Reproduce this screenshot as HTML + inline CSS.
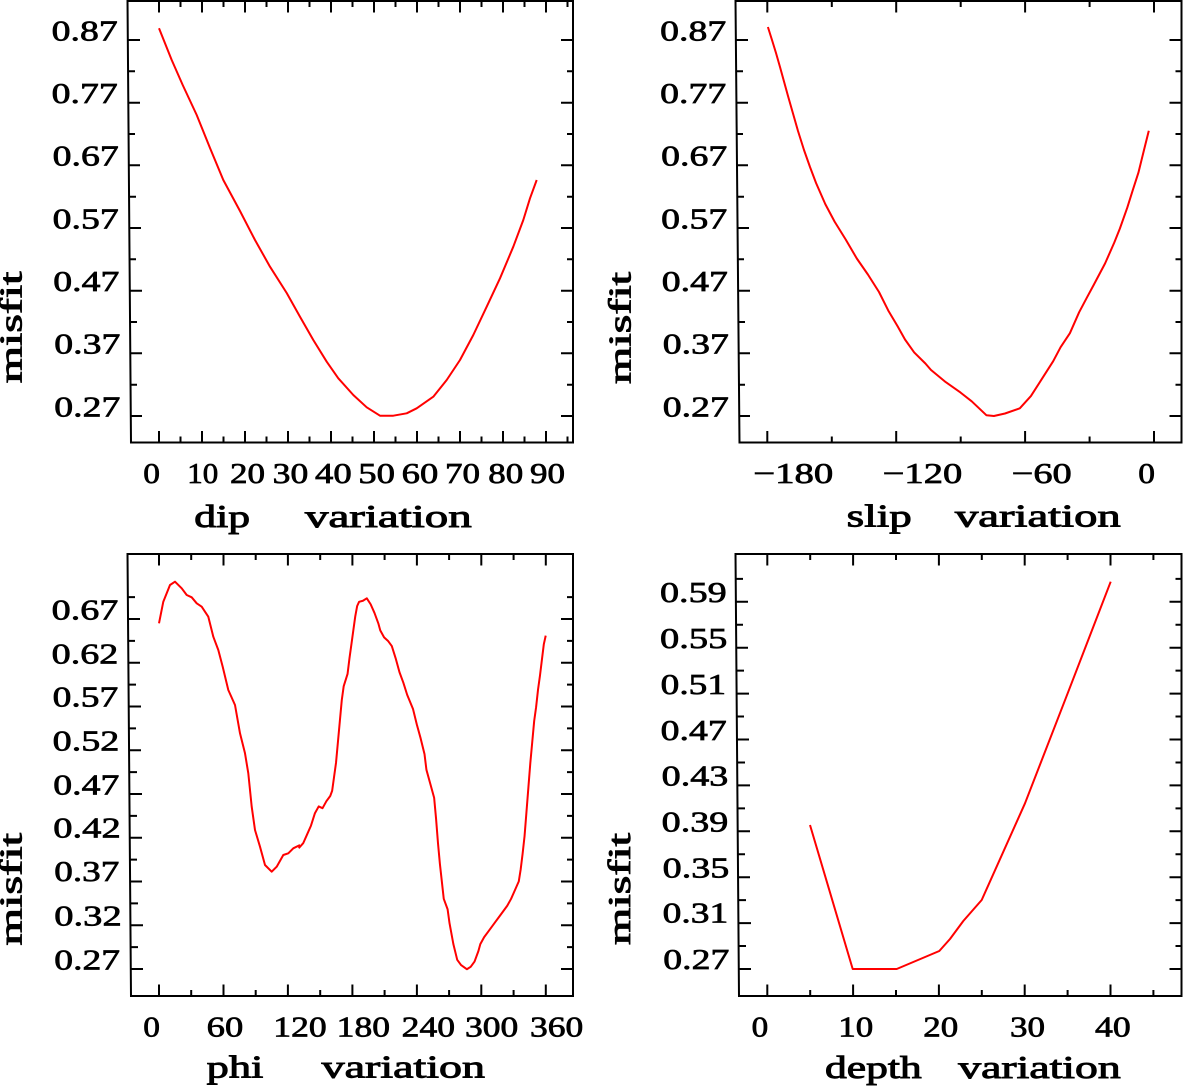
<!DOCTYPE html>
<html><head><meta charset="utf-8"><style>
html,body{margin:0;padding:0;background:#fff;}
svg{display:block;}
text{font-family:"Liberation Serif","DejaVu Serif",serif;font-weight:normal;fill:#000;stroke:#000;stroke-width:0.7px;}
.n{font-size:29px;}
.t{font-size:32px;stroke-width:0.9px;}
.ax{stroke:#000;stroke-width:2;fill:none;}
.tk{stroke:#000;stroke-width:2;fill:none;}
.c{stroke:#ff0000;stroke-width:2;fill:none;stroke-linejoin:round;}
</style></head><body>
<svg width="1183" height="1086" viewBox="0 0 1183 1086" xmlns="http://www.w3.org/2000/svg">
<rect width="1183" height="1086" fill="#fff"/>

<!-- ================= TOP LEFT (dip) ================= -->
<path class="ax" d="M127.5 0 L131 443.5 M130 442.5 H573 M573 0 V443.5 M127.5 1 H574"/>
<path class="tk" d="
M159 442.5V431 M180.5 442.5V436.5 M202 442.5V431 M223.5 442.5V436.5 M245 442.5V431 M266.5 442.5V436.5 M288 442.5V431 M309.5 442.5V436.5 M331 442.5V431 M352.5 442.5V436.5 M374 442.5V431 M395.5 442.5V436.5 M417 442.5V431 M438.5 442.5V436.5 M460 442.5V431 M481.5 442.5V436.5 M503 442.5V431 M524.5 442.5V436.5 M546 442.5V431 M567.5 442.5V436.5
M159 1V12.5 M180.5 1V7 M202 1V12.5 M223.5 1V7 M245 1V12.5 M266.5 1V7 M288 1V12.5 M309.5 1V7 M331 1V12.5 M352.5 1V7 M374 1V12.5 M395.5 1V7 M417 1V12.5 M438.5 1V7 M460 1V12.5 M481.5 1V7 M503 1V12.5 M524.5 1V7 M546 1V12.5 M567.5 1V7
M127.8 40H140 M128.1 71.3H135 M128.3 102.7H140 M128.6 134H135 M128.8 165.3H140 M129.1 196.7H136 M129.3 228H141 M129.6 259.3H136 M129.8 290.7H142 M130 322H137 M130.3 353.3H142 M130.5 384.7H137 M130.8 416H142
M573 40H561 M573 71.3H567 M573 102.7H561 M573 134H567 M573 165.3H561 M573 196.7H567 M573 228H561 M573 259.3H567 M573 290.7H561 M573 322H567 M573 353.3H561 M573 384.7H567 M573 416H561"/>
<text class="n" x="51.7" y="40.5" textLength="66" lengthAdjust="spacingAndGlyphs">0.87</text>
<text class="n" x="51.7" y="103" textLength="66" lengthAdjust="spacingAndGlyphs">0.77</text>
<text class="n" x="52.7" y="165.5" textLength="66" lengthAdjust="spacingAndGlyphs">0.67</text>
<text class="n" x="52.7" y="228.5" textLength="66" lengthAdjust="spacingAndGlyphs">0.57</text>
<text class="n" x="53.3" y="291" textLength="66" lengthAdjust="spacingAndGlyphs">0.47</text>
<text class="n" x="54.3" y="353.5" textLength="66" lengthAdjust="spacingAndGlyphs">0.37</text>
<text class="n" x="54.3" y="416.5" textLength="66" lengthAdjust="spacingAndGlyphs">0.27</text>
<text class="n" x="143.3" y="483" textLength="16.7" lengthAdjust="spacingAndGlyphs">0</text>
<text class="n" x="187.3" y="483" textLength="31" lengthAdjust="spacingAndGlyphs">10</text>
<text class="n" x="230" y="483" textLength="35" lengthAdjust="spacingAndGlyphs">20</text>
<text class="n" x="272.7" y="483" textLength="35.6" lengthAdjust="spacingAndGlyphs">30</text>
<text class="n" x="315" y="483" textLength="36.7" lengthAdjust="spacingAndGlyphs">40</text>
<text class="n" x="358.3" y="483" textLength="36.7" lengthAdjust="spacingAndGlyphs">50</text>
<text class="n" x="401.7" y="483" textLength="36.6" lengthAdjust="spacingAndGlyphs">60</text>
<text class="n" x="445" y="483" textLength="35" lengthAdjust="spacingAndGlyphs">70</text>
<text class="n" x="488.3" y="483" textLength="35" lengthAdjust="spacingAndGlyphs">80</text>
<text class="n" x="530" y="483" textLength="35" lengthAdjust="spacingAndGlyphs">90</text>
<text class="t" x="194.3" y="527" textLength="55.7" lengthAdjust="spacingAndGlyphs">dip</text>
<text class="t" x="305" y="527" textLength="166.7" lengthAdjust="spacingAndGlyphs">variation</text>
<text class="t" transform="translate(21.7,383.3) rotate(-90)" x="0" y="0" textLength="111.7" lengthAdjust="spacingAndGlyphs">misfit</text>
<polyline class="c" points="159,28.3 171.7,60 182.7,85 196.7,115 210,148 223.3,180 240,211 255,240 270,266.7 286.7,293 300,316.7 313.3,340 326.7,361.7 338.3,378.3 353.3,395 366.7,407.3 380,415.7 393.3,415.7 406.7,413.3 416.7,408.3 433.3,396.7 446.7,380 460,360 473.3,335 486.7,306.7 500,278.3 513.3,246.7 523.3,220 530,198.3 536.7,180"/>

<!-- ================= TOP RIGHT (slip) ================= -->
<path class="ax" d="M735.5 0 L739.5 443.5 M738.5 442.5 H1181.5 M1181.5 0 V443.5 M735.5 1 H1182.5"/>
<path class="tk" d="
M767.3 442.5V431 M831.8 442.5V436.5 M896.2 442.5V431 M960.7 442.5V436.5 M1025.1 442.5V431 M1089.6 442.5V436.5 M1154 442.5V431
M767.3 1V12.5 M831.8 1V7 M896.2 1V12.5 M960.7 1V7 M1025.1 1V12.5 M1089.6 1V7 M1154 1V12.5
M735.8 40H748 M736.1 71.3H743 M736.3 102.7H748 M736.6 134H743 M736.8 165.3H748 M737.1 196.7H744 M737.3 228H749 M737.6 259.3H744 M737.8 290.7H750 M738 322H745 M738.3 353.3H750 M738.5 384.7H745 M738.8 416H750
M1181.5 40H1169.5 M1181.5 71.3H1175.5 M1181.5 102.7H1169.5 M1181.5 134H1175.5 M1181.5 165.3H1169.5 M1181.5 196.7H1175.5 M1181.5 228H1169.5 M1181.5 259.3H1175.5 M1181.5 290.7H1169.5 M1181.5 322H1175.5 M1181.5 353.3H1169.5 M1181.5 384.7H1175.5 M1181.5 416H1169.5"/>
<text class="n" x="660.2" y="40.5" textLength="66" lengthAdjust="spacingAndGlyphs">0.87</text>
<text class="n" x="660.2" y="103" textLength="66" lengthAdjust="spacingAndGlyphs">0.77</text>
<text class="n" x="661.2" y="165.5" textLength="66" lengthAdjust="spacingAndGlyphs">0.67</text>
<text class="n" x="661.2" y="228.5" textLength="66" lengthAdjust="spacingAndGlyphs">0.57</text>
<text class="n" x="661.8" y="291" textLength="66" lengthAdjust="spacingAndGlyphs">0.47</text>
<text class="n" x="662.8" y="353.5" textLength="66" lengthAdjust="spacingAndGlyphs">0.37</text>
<text class="n" x="662.8" y="416.5" textLength="66" lengthAdjust="spacingAndGlyphs">0.27</text>
<text class="n" x="753.3" y="483" textLength="80" lengthAdjust="spacingAndGlyphs">−180</text>
<text class="n" x="882.7" y="483" textLength="79.6" lengthAdjust="spacingAndGlyphs">−120</text>
<text class="n" x="1011.7" y="483" textLength="60" lengthAdjust="spacingAndGlyphs">−60</text>
<text class="n" x="1138.3" y="483" textLength="16.7" lengthAdjust="spacingAndGlyphs">0</text>
<text class="t" x="846.7" y="526.7" textLength="65" lengthAdjust="spacingAndGlyphs">slip</text>
<text class="t" x="955" y="526.7" textLength="165.7" lengthAdjust="spacingAndGlyphs">variation</text>
<text class="t" transform="translate(630.5,384) rotate(-90)" x="0" y="0" textLength="112" lengthAdjust="spacingAndGlyphs">misfit</text>
<polyline class="c" points="767.9,27 772,40 776,53 780,67 784,81.5 788,96 793,113.5 798,131 804,150 810,167 816.1,183.1 825.3,204.1 834.6,221.6 845.7,239.5 856.8,258.5 867.9,274.5 879,292 888.3,310.6 897.6,326.3 905,339.5 914.2,352.4 925.4,363.5 930.9,369.9 945.7,382.1 960.6,392.6 971.7,401.3 982.8,411.8 986.5,415.3 993.9,416 1005,413.5 1019.8,408.3 1030.9,396.1 1042.1,378.6 1053.2,361.2 1060.6,347.2 1069.9,333.2 1079.1,312.3 1086.5,298.3 1094,284.4 1105.1,263.4 1114.3,242.5 1119.9,228.5 1127.3,207.6 1132.8,190.1 1138.4,172.7 1144,150 1148.8,130.8"/>

<!-- ================= BOTTOM LEFT (phi) ================= -->
<path class="ax" d="M127.5 553 L131 997 M130 996 H573 M573 553 V997 M127.5 554 H574"/>
<path class="tk" d="
M159 996V984.5 M191.2 996V990 M223.5 996V984.5 M255.7 996V990 M287.9 996V984.5 M320.2 996V990 M352.4 996V984.5 M384.6 996V990 M416.9 996V984.5 M449.1 996V990 M481.3 996V984.5 M513.6 996V990 M545.8 996V984.5
M159 554V565.5 M191.2 554V560 M223.5 554V565.5 M255.7 554V560 M287.9 554V565.5 M320.2 554V560 M352.4 554V565.5 M384.6 554V560 M416.9 554V565.5 M449.1 554V560 M481.3 554V565.5 M513.6 554V560 M545.8 554V565.5
M128 597.1H135 M128.2 619H140 M128.3 640.9H135 M128.5 662.75H140 M128.7 684.6H136 M128.9 706.5H141 M129 728.4H136 M129.2 750.25H141 M129.4 772.1H137 M129.6 794H142 M129.8 815.9H137 M130 837.75H142 M130.2 859.6H137 M130.3 881.5H142 M130.5 903.4H138 M130.7 925.25H143 M130.8 947.1H138 M131 969H143
M573 597.1H567 M573 619H561 M573 640.9H567 M573 662.75H561 M573 684.6H567 M573 706.5H561 M573 728.4H567 M573 750.25H561 M573 772.1H567 M573 794H561 M573 815.9H567 M573 837.75H561 M573 859.6H567 M573 881.5H561 M573 903.4H567 M573 925.25H561 M573 947.1H567 M573 969H561"/>
<text class="n" x="51.7" y="619.5" textLength="66.6" lengthAdjust="spacingAndGlyphs">0.67</text>
<text class="n" x="51.7" y="663.3" textLength="66.6" lengthAdjust="spacingAndGlyphs">0.62</text>
<text class="n" x="52.7" y="706.5" textLength="65.6" lengthAdjust="spacingAndGlyphs">0.57</text>
<text class="n" x="52.7" y="750.5" textLength="66.6" lengthAdjust="spacingAndGlyphs">0.52</text>
<text class="n" x="53.3" y="794.3" textLength="66" lengthAdjust="spacingAndGlyphs">0.47</text>
<text class="n" x="53.3" y="837.5" textLength="67.4" lengthAdjust="spacingAndGlyphs">0.42</text>
<text class="n" x="54.3" y="881" textLength="65" lengthAdjust="spacingAndGlyphs">0.37</text>
<text class="n" x="54.3" y="925.3" textLength="67.4" lengthAdjust="spacingAndGlyphs">0.32</text>
<text class="n" x="54.3" y="969.3" textLength="65.7" lengthAdjust="spacingAndGlyphs">0.27</text>
<text class="n" x="143.3" y="1036.7" textLength="16.7" lengthAdjust="spacingAndGlyphs">0</text>
<text class="n" x="206.7" y="1036.7" textLength="36.6" lengthAdjust="spacingAndGlyphs">60</text>
<text class="n" x="273.3" y="1036.7" textLength="53.4" lengthAdjust="spacingAndGlyphs">120</text>
<text class="n" x="336.7" y="1036.7" textLength="53.3" lengthAdjust="spacingAndGlyphs">180</text>
<text class="n" x="401.7" y="1036.7" textLength="53.3" lengthAdjust="spacingAndGlyphs">240</text>
<text class="n" x="465" y="1036.7" textLength="53.3" lengthAdjust="spacingAndGlyphs">300</text>
<text class="n" x="530" y="1036.7" textLength="53.3" lengthAdjust="spacingAndGlyphs">360</text>
<text class="t" x="206.7" y="1077.7" textLength="56.6" lengthAdjust="spacingAndGlyphs">phi</text>
<text class="t" x="321.7" y="1077.7" textLength="163.3" lengthAdjust="spacingAndGlyphs">variation</text>
<text class="t" transform="translate(21.7,945.5) rotate(-90)" x="0" y="0" textLength="112.5" lengthAdjust="spacingAndGlyphs">misfit</text>
<polyline class="c" points="159,623.3 163.3,601.7 170,585 175,581.7 181.7,588.3 186.7,595 191.7,597.3 196.7,603.3 201.7,606.7 208.3,616.7 213.3,636.7 218.3,650 222.7,666.7 228.3,690 235,705 240,733.3 245,753.3 248.3,773.3 251.7,806.7 255,830 260,846.7 265,865 271.7,871.7 276.7,866.7 283.3,855 288.3,853.3 293.3,848.3 300,845"/>
<g transform="matrix(0.3848 0 0 0.3486 -0.692 539.75)">
<polyline class="c" vector-effect="non-scaling-stroke" points="778,885 790,870 800,845 810,820 820,785 830,765 840,770 850,750 860,735 865,720 870,680 875,640 880,580 885,520 890,460 895,420 905,385 910,340 915,300 920,260 925,220 930,190 935,178 945,175 955,168 965,185 975,210 985,240 990,260 1000,280 1010,290 1020,305 1030,340 1040,380 1050,410 1060,445 1075,485 1085,530 1095,570 1105,615 1110,660 1120,700 1130,740 1135,800 1140,870 1145,930 1150,980 1155,1030 1165,1060 1170,1100 1180,1160 1190,1205 1200,1220 1215,1232 1225,1225 1235,1210 1245,1180 1250,1160 1260,1140 1270,1125 1280,1110 1290,1095 1300,1080 1310,1065 1320,1050 1330,1030 1340,1005 1350,980 1355,945 1360,900 1365,850 1370,780 1375,710 1380,640 1385,580 1390,520 1395,480 1400,430 1405,390 1410,345 1415,300 1420,275"/>
</g>

<!-- ================= BOTTOM RIGHT (depth) ================= -->
<path class="ax" d="M735.5 553 L739 997 M738 996 H1181.5 M1181.5 553 V997 M735.5 554 H1182.5"/>
<path class="tk" d="
M767.3 996V984.5 M810.2 996V990 M853.1 996V984.5 M896 996V990 M938.9 996V984.5 M981.8 996V990 M1024.7 996V984.5 M1067.6 996V990 M1110.5 996V984.5 M1153.4 996V990
M767.3 554V565.5 M810.2 554V560 M853.1 554V565.5 M896 554V560 M938.9 554V565.5 M981.8 554V560 M1024.7 554V565.5 M1067.6 554V560 M1110.5 554V565.5 M1153.4 554V560
M735.8 578.85H743 M736 601.8H748 M736.2 624.75H743 M736.4 647.7H748 M736.5 670.65H744 M736.7 693.6H749 M736.9 716.55H744 M737.1 739.5H749 M737.3 762.45H745 M737.5 785.4H750 M737.6 808.35H745 M737.8 831.3H750 M738 854.25H745 M738.2 877.2H750 M738.4 900.15H746 M738.5 923.1H751 M738.7 946.05H746 M738.9 969H751
M1181.5 578.85H1175.5 M1181.5 601.8H1169.5 M1181.5 624.75H1175.5 M1181.5 647.7H1169.5 M1181.5 670.65H1175.5 M1181.5 693.6H1169.5 M1181.5 716.55H1175.5 M1181.5 739.5H1169.5 M1181.5 762.45H1175.5 M1181.5 785.4H1169.5 M1181.5 808.35H1175.5 M1181.5 831.3H1169.5 M1181.5 854.25H1175.5 M1181.5 877.2H1169.5 M1181.5 900.15H1175.5 M1181.5 923.1H1169.5 M1181.5 946.05H1175.5 M1181.5 969H1169.5"/>
<text class="n" x="660" y="602" textLength="66.7" lengthAdjust="spacingAndGlyphs">0.59</text>
<text class="n" x="660" y="648" textLength="67.3" lengthAdjust="spacingAndGlyphs">0.55</text>
<text class="n" x="660.7" y="694" textLength="65.3" lengthAdjust="spacingAndGlyphs">0.51</text>
<text class="n" x="660.7" y="740" textLength="66" lengthAdjust="spacingAndGlyphs">0.47</text>
<text class="n" x="661.7" y="785.7" textLength="66.6" lengthAdjust="spacingAndGlyphs">0.43</text>
<text class="n" x="661.7" y="831.7" textLength="66.6" lengthAdjust="spacingAndGlyphs">0.39</text>
<text class="n" x="662.7" y="877.3" textLength="66.6" lengthAdjust="spacingAndGlyphs">0.35</text>
<text class="n" x="662.7" y="922.7" textLength="65.6" lengthAdjust="spacingAndGlyphs">0.31</text>
<text class="n" x="663.3" y="969" textLength="66" lengthAdjust="spacingAndGlyphs">0.27</text>
<text class="n" x="751.7" y="1036.7" textLength="16.6" lengthAdjust="spacingAndGlyphs">0</text>
<text class="n" x="838.3" y="1036.7" textLength="35" lengthAdjust="spacingAndGlyphs">10</text>
<text class="n" x="923.3" y="1036.7" textLength="35" lengthAdjust="spacingAndGlyphs">20</text>
<text class="n" x="1010" y="1036.7" textLength="35" lengthAdjust="spacingAndGlyphs">30</text>
<text class="n" x="1095" y="1036.7" textLength="35.7" lengthAdjust="spacingAndGlyphs">40</text>
<text class="t" x="825" y="1078" textLength="96.7" lengthAdjust="spacingAndGlyphs">depth</text>
<text class="t" x="958.3" y="1078" textLength="162.4" lengthAdjust="spacingAndGlyphs">variation</text>
<text class="t" transform="translate(630,945) rotate(-90)" x="0" y="0" textLength="112" lengthAdjust="spacingAndGlyphs">misfit</text>
<polyline class="c" points="810,825 852.7,969 896.7,969 939.3,951 950,939 963.3,921 981.7,900 1025,803.3 1068.3,691.7 1110.7,581.7"/>
</svg>
</body></html>
